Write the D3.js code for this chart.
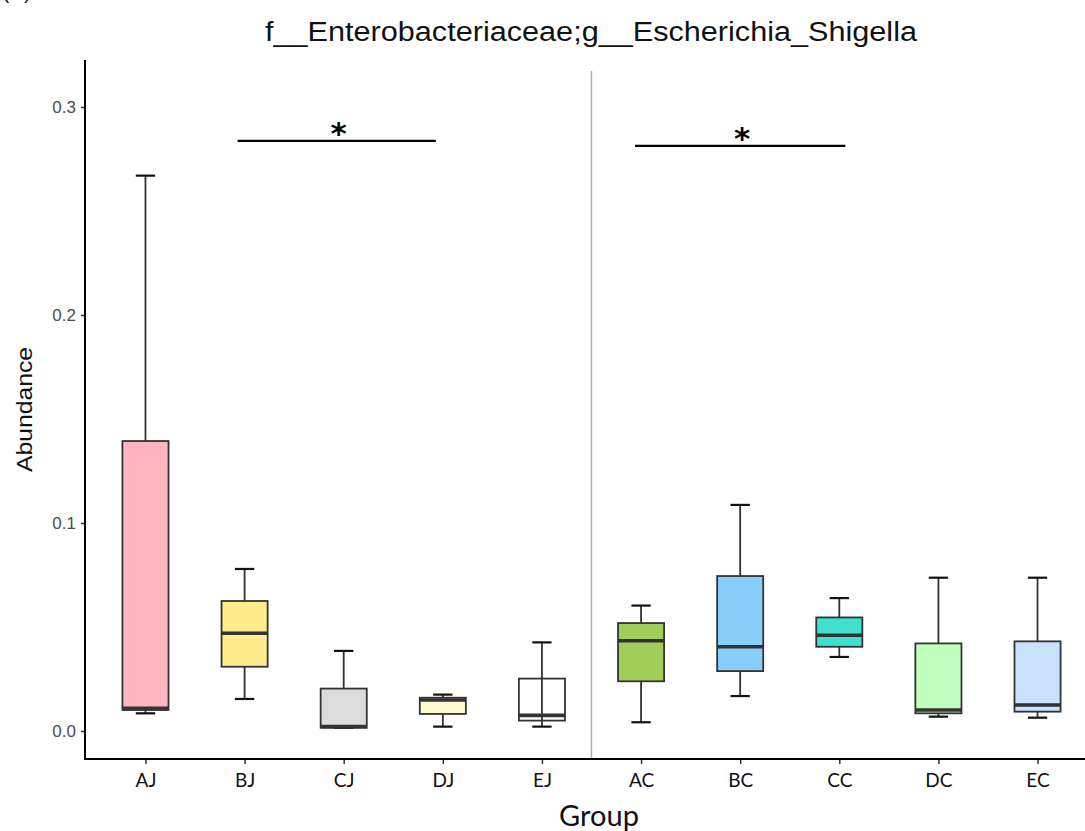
<!DOCTYPE html>
<html>
<head>
<meta charset="utf-8">
<script src="https://cdn.jsdelivr.net/npm/d3@7"></script>
<style>
  html, body { margin: 0; padding: 0; background: #fff; }
  svg { display: block; }
</style>
</head>
<body>
<svg id="chart" width="1085" height="831"></svg>
<script>
// ---- Data ----
const groups = ["AJ", "BJ", "CJ", "DJ", "EJ", "AC", "BC", "CC", "DC", "EC"];
const whiskerLow  = [0.0085, 0.0154, 0.0015, 0.0021, 0.0021, 0.0042, 0.0168, 0.0356, 0.0069, 0.0064];
const q1          = [0.0101, 0.0309, 0.0016, 0.0082, 0.0050, 0.0239, 0.0288, 0.0405, 0.0085, 0.0093];
const median      = [0.0109, 0.0470, 0.0021, 0.0149, 0.0075, 0.0434, 0.0405, 0.0460, 0.0101, 0.0125];
const q3          = [0.1394, 0.0625, 0.0204, 0.0160, 0.0252, 0.0519, 0.0745, 0.0546, 0.0421, 0.0431];
const whiskerHigh = [0.2670, 0.0779, 0.0385, 0.0175, 0.0426, 0.0603, 0.1087, 0.0639, 0.0737, 0.0737];
const fills = ["#FFB6C1", "#FFEC8B", "#DCDCDC", "#FFFACD", "#FFFFFF",
               "#A2CD5A", "#87CEFA", "#40E0D0", "#C1FFC1", "#CAE1FF"];
const yTicks = [0.0, 0.1, 0.2, 0.3];
const sigPairs = [["BJ", "DJ"], ["AC", "CC"]];
const sigLevels = [0.2837, 0.2813];
const sigLabels = ["*", "*"];
const titleText = "f__Enterobacteriaceae;g__Escherichia_Shigella";

// ---- Layout ----
const svg = d3.select("#chart");
const panel = { left: 85, right: 1097, top: 60, bottom: 759 };

const x = d3.scalePoint().domain(groups).range([panel.left + 1, panel.right]).padding(0.6);
const step = x.step();
const y = d3.scaleLinear().domain([0, 0.3]).range([731, 107]);

const boxW = step * 0.465;
const capW = step * 0.195;

// Title
svg.append("text")
  .attr("x", 591).attr("y", 41)
  .attr("text-anchor", "middle")
  .attr("textLength", 652).attr("lengthAdjust", "spacingAndGlyphs")
  .style("font-family", "Liberation Sans, Arial, sans-serif")
  .style("font-size", "27px").style("fill", "#111")
  .text(titleText);

// Partially visible panel tag (cut at the top edge, as in the source)
svg.append("text")
  .attr("x", 2).attr("y", -2)
  .style("font-family", "Liberation Sans, Arial, sans-serif")
  .style("font-size", "22px").style("fill", "#222")
  .text("(A)");

// Separator line
svg.append("line")
  .attr("x1", (x("EJ") + x("AC")) / 2).attr("x2", (x("EJ") + x("AC")) / 2)
  .attr("y1", 71).attr("y2", panel.bottom)
  .attr("stroke", "#aaaaaa").attr("stroke-width", 1.5);

// Boxes
const data = groups.map((g, i) => ({
  g, lo: whiskerLow[i], q1: q1[i], med: median[i], q3: q3[i], hi: whiskerHigh[i], fill: fills[i]
}));

const bg = svg.append("g");
data.forEach(d => {
  const cx = x(d.g);
  const stroke = "#333333";
  bg.append("line").attr("x1", cx).attr("x2", cx).attr("y1", y(d.q3)).attr("y2", y(d.hi))
    .attr("stroke", stroke).attr("stroke-width", 1.8);
  bg.append("line").attr("x1", cx).attr("x2", cx).attr("y1", y(d.q1)).attr("y2", y(d.lo))
    .attr("stroke", stroke).attr("stroke-width", 1.8);
  [d.hi, d.lo].forEach(v => {
    bg.append("line").attr("x1", cx - capW / 2).attr("x2", cx + capW / 2)
      .attr("y1", y(v)).attr("y2", y(v))
      .attr("stroke", "#111").attr("stroke-width", 2.2);
  });
  bg.append("rect")
    .attr("x", cx - boxW / 2).attr("width", boxW)
    .attr("y", y(d.q3)).attr("height", Math.max(0.5, y(d.q1) - y(d.q3)))
    .attr("fill", d.fill).attr("stroke", stroke).attr("stroke-width", 1.8);
  if (d.fill === "#FFFFFF") {
    bg.append("line").attr("x1", cx).attr("x2", cx).attr("y1", y(d.q3)).attr("y2", y(d.q1))
      .attr("stroke", stroke).attr("stroke-width", 1.8);
  }
  bg.append("line").attr("x1", cx - boxW / 2).attr("x2", cx + boxW / 2)
    .attr("y1", y(d.med)).attr("y2", y(d.med))
    .attr("stroke", stroke).attr("stroke-width", 3.6);
});

// Significance bars
sigPairs.forEach((p, i) => {
  const offs = i === 0 ? [-7, -7] : [-6, 6];
  const x1 = x(p[0]) + offs[0], x2 = x(p[1]) + offs[1];
  const yy = y(sigLevels[i]);
  svg.append("line").attr("x1", x1).attr("x2", x2).attr("y1", yy).attr("y2", yy)
    .attr("stroke", "#000").attr("stroke-width", 2.2);
  svg.append("text").attr("x", (x1 + x2) / 2 + 2).attr("y", yy + 3)
    .attr("text-anchor", "middle")
    .style("font-family", "DejaVu Sans, sans-serif").style("font-size", "31px")
    .style("font-weight", "bold").style("fill", "#000")
    .text(sigLabels[i]);
});

// Y axis
const yAxis = d3.axisLeft(y).tickValues(yTicks).tickFormat(d3.format(".1f")).tickSize(4).tickPadding(5);
const gy = svg.append("g").attr("transform", `translate(${panel.left},0)`).call(yAxis);
gy.select(".domain").remove();
gy.selectAll(".tick line").attr("stroke", "#333").attr("stroke-width", 1.5);
gy.selectAll(".tick text")
  .style("font-family", "Liberation Sans, Arial, sans-serif")
  .style("font-size", "17px").style("fill", "#4d4d4d");
svg.append("line").attr("x1", panel.left).attr("x2", panel.left)
  .attr("y1", panel.top).attr("y2", panel.bottom + 1)
  .attr("stroke", "#000").attr("stroke-width", 2);

// X axis
const xAxis = d3.axisBottom(x).tickSize(5).tickPadding(10);
const gx = svg.append("g").attr("transform", `translate(0,${panel.bottom})`).call(xAxis);
gx.select(".domain").remove();
gx.selectAll(".tick line").attr("stroke", "#333").attr("stroke-width", 1.5);
gx.selectAll(".tick text")
  .style("font-family", "Lato, 'Open Sans', sans-serif")
  .style("font-size", "19px").style("fill", "#111");
svg.append("line").attr("x1", panel.left - 1).attr("x2", 1085)
  .attr("y1", panel.bottom).attr("y2", panel.bottom)
  .attr("stroke", "#000").attr("stroke-width", 2);

// Axis titles
svg.append("text")
  .attr("transform", `translate(32,${(panel.top + panel.bottom) / 2}) rotate(-90)`)
  .attr("text-anchor", "middle")
  .attr("textLength", 125).attr("lengthAdjust", "spacingAndGlyphs")
  .style("font-family", "Liberation Sans, Arial, sans-serif")
  .style("font-size", "22px").style("fill", "#111")
  .text("Abundance");

svg.append("text")
  .attr("x", 599).attr("y", 826)
  .attr("text-anchor", "middle")
  .style("font-family", "Lato, 'Open Sans', sans-serif")
  .style("font-size", "29px").style("fill", "#111")
  .text("Group");
</script>
</body>
</html>
